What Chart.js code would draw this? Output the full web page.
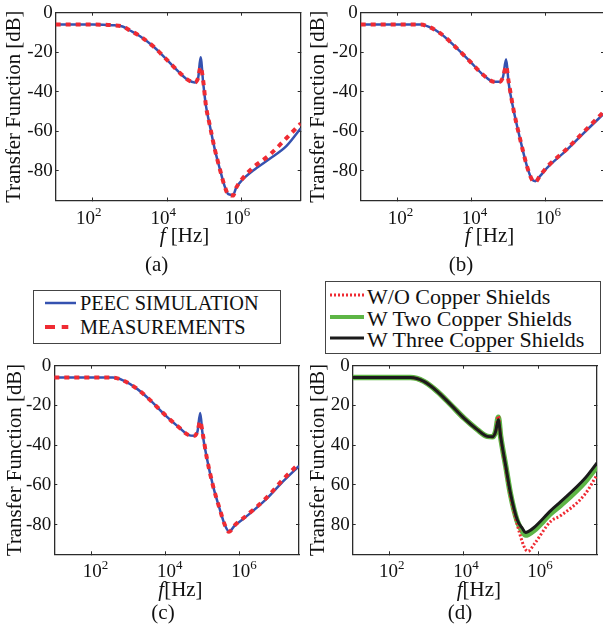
<!DOCTYPE html>
<html>
<head>
<meta charset="utf-8">
<title>Transfer function</title>
<script src="https://cdn.jsdelivr.net/npm/chart.js@4.4.1/dist/chart.umd.min.js"></script>
<style>
  html, body { margin: 0; padding: 0; background: #fff; }
  #fig { position: relative; width: 603px; height: 627px; overflow: hidden; }
  #fig > canvas { position: absolute; }
  .legend { position: absolute; box-sizing: border-box; border: 1px solid #444; background: #fff; }
  .legend span { position: absolute; color: #111; line-height: 22px; white-space: nowrap; }
  .legend canvas { position: absolute; }
</style>
</head>
<body>
<div id="fig">
  <canvas id="panelA" width="303" height="280" style="left:0;top:0"></canvas>
  <canvas id="panelB" width="310" height="280" style="left:300px;top:0"></canvas>
  <canvas id="panelC" width="303" height="274" style="left:0;top:353px"></canvas>
  <canvas id="panelD" width="303" height="274" style="left:300px;top:353px"></canvas>
  <div id="legendAC" class="legend"></div>
  <div id="legendD" class="legend"></div>
</div>
<script>
"use strict";

// (a) frequency [Hz] and transfer function [dB]
const freqA = [10, 100, 320, 630, 1000, 1900, 4200, 1e4, 2.2e4, 3.6e4, 5.5e4, 6.8e4, 7.9e4, 9.3e4, 1.1e5, 1.4e5, 1.9e5, 2.6e5, 3.5e5, 4.4e5, 5.9e5, 7.2e5, 1e6, 2e6, 5.6e6, 1.6e7, 3.9e7];
const peecA = [-6, -6, -6.3, -7, -9, -12, -17, -24, -30.5, -34, -35.3, -33, -22.5, -35.6, -47, -57, -69, -79, -87.7, -91.8, -92.2, -88.5, -85, -80, -74, -67.5, -58.5];
const measA = [-6, -6, -6.3, -7, -9, -12, -17, -24, -30.5, -34, -35.3, -33, -27.5, -34.5, -47, -57, -69, -79, -87.7, -92, -92.5, -88.5, -84.5, -78.5, -72, -63.5, -56];

// (b)
const freqB = [10, 100, 420, 710, 1450, 3300, 9300, 2.1e4, 4e4, 5.8e4, 7.2e4, 8.7e4, 1.02e5, 1.38e5, 2.1e5, 3.2e5, 4.4e5, 5.4e5, 7.2e5, 1.12e6, 3.9e6, 1.1e7, 3.9e7];
const peecB = [-6, -6, -6, -7.2, -10.5, -16.4, -24.8, -31.5, -34.9, -34.9, -32.3, -23.6, -35.7, -49.1, -64.2, -77.7, -84.4, -85.2, -82.7, -78.5, -69.3, -60.9, -51];
const measB = [-6, -6, -6, -7.2, -10.5, -16.4, -24.8, -31.5, -34.9, -35, -32.5, -27, -35, -49.1, -64.2, -77.7, -84.6, -85.6, -82.5, -78, -68.8, -60.3, -50];

// (c)
const freqC = [10, 100, 380, 710, 1600, 3700, 1.05e4, 2.4e4, 4e4, 6e4, 7.2e4, 8.5e4, 9.8e4, 1.26e5, 1.9e5, 2.9e5, 3.9e5, 5.1e5, 7.2e5, 1.5e6, 5.2e6, 1.45e7, 3.9e7];
const peecC = [-6, -6, -6, -7.4, -11.3, -17.1, -25.5, -31.4, -34.8, -35.3, -33.1, -23.8, -33.9, -45.7, -60.8, -72.6, -80.1, -83.5, -80.6, -75.9, -67.1, -58.3, -50.5];
const measC = [-6, -6, -6, -7.4, -11.3, -17.1, -25.5, -31.4, -34.8, -35.3, -33.1, -28, -33.5, -45.7, -60.8, -72.6, -80.1, -83.7, -80.4, -75.5, -66.5, -57.3, -49.3];

// (d) shielding comparison
const freqD = [10, 100, 360, 830, 1900, 4400, 1e4, 2.3e4, 4.3e4, 5.9e4, 7.2e4, 8.5e4, 9.8e4, 1.35e5, 1.8e5, 2.75e5, 3.8e5, 4.6e5, 5.4e5, 7.8e5, 2.2e6, 4.1e6, 1.8e7, 3.9e7];
const noShieldD = [-6, -6, -6, -7.9, -12.9, -19.6, -26.4, -32.2, -35.6, -35.8, -33.1, -25.3, -36, -51.5, -65.5, -80, -89, -92.5, -93.5, -90, -78.4, -75.5, -65, -55];
const twoShieldD = [-6, -6, -6, -7.9, -12.9, -19.6, -26.4, -32.2, -35.6, -35.8, -33.1, -26, -35.6, -50.7, -64.5, -78.3, -83.5, -85.3, -85, -83, -74.5, -70.3, -58.8, -50.7];
const threeShieldD = [-6, -6, -6, -7.9, -12.9, -19.6, -26.4, -32.2, -35.6, -35.8, -33.1, -27.2, -35.6, -50.7, -64.1, -77.6, -82, -84, -83.6, -81.5, -73, -68.5, -57, -49];

// axes
const xTickValues = [1e2, 1e4, 1e6];
const yTickValues = [0, -20, -40, -60, -80];
const yTickLabels = ["0", "-20", "-40", "-60", "-80"];
const yTickLabelsD = ["0", "20", "40", "60", "80"];

const BLUE = "#3552b0", RED = "#ef2b33", GREEN = "#5db545", BLACK = "#1b1b1b";
const AXIS = "#2b2b2b";

// first serif face that is really installed; sizes are scaled so a wider face takes the same room
const probe = document.createElement("canvas").getContext("2d");
function pickSerif() {
    const sample = "Transfer Function [dB] 0123456789";
    probe.font = "40px monospace";
    const mono = probe.measureText(sample).width;
    for (const fam of ['"Liberation Serif"', '"Times New Roman"', '"Nimbus Roman"', '"DejaVu Serif"', '"Noto Serif"']) {
        probe.font = "40px " + fam + ", monospace";
        if (probe.measureText(sample).width !== mono) return fam;
    }
    return "serif";
}
const SERIF = pickSerif();
probe.font = "100px " + SERIF;
const fontScale = /Liberation|Times|Nimbus/.test(SERIF) ? 1 : 927 / probe.measureText("Transfer Function [dB]").width;
const fs = n => Math.round(n * fontScale * 10) / 10;
const font = (n, style) => (style ? style + " " : "") + fs(n) + "px " + SERIF;

function points(freq, vals) {
    return freq.map((f, i) => ({ x: f, y: vals[i] }));
}

function setTicks(list) {
    return scale => { scale.ticks = list.map(v => ({ value: v })); };
}

// box round the plot with short ticks pointing inwards on all four sides
function boxScales(p) {
    const marks = { color: AXIS, drawOnChartArea: false, drawTicks: true, tickLength: -3, lineWidth: 1 };
    const border = { display: true, color: AXIS, width: 1.3 };
    const size = (w, h) => scale => {
        if (w !== null) scale.width = w;
        if (h !== null) scale.height = h;
        scale.paddingTop = scale.paddingBottom = scale.paddingLeft = scale.paddingRight = 0;
    };
    const xBase = { type: "logarithmic", axis: "x", min: 10, max: 3.9e7, bounds: "data", grid: marks, border,
                    ticks: { display: false }, afterBuildTicks: setTicks(xTickValues) };
    const yBase = { type: "linear", axis: "y", min: -95, max: 0, bounds: "data", grid: marks, border,
                    afterBuildTicks: setTicks(yTickValues) };
    return {
        x: { ...xBase, position: "bottom", afterFit: size(null, p.xAxisH) },
        x2: { ...xBase, position: "top", afterFit: size(null, 0) },
        y: { ...yBase, position: "left", afterFit: size(p.yAxisW, null),
             ticks: { color: "#111", font: { family: SERIF, size: fs(19) }, padding: 6, callback: (v, i) => p.yLabels[i] } },
        y2: { ...yBase, position: "right", ticks: { display: false }, afterFit: size(0, null) }
    };
}

// decade labels, f [Hz], panel tag and the rotated y title
const panelText = {
    id: "panelText",
    afterDraw(chart, args, o) {
        const { ctx, chartArea: a, scales } = chart;
        ctx.save();
        ctx.fillStyle = "#111";
        ctx.textAlign = "left";
        ctx.textBaseline = "alphabetic";
        xTickValues.forEach(v => {
            const exp = String(Math.round(Math.log10(v)));
            ctx.font = font(19);
            const wBase = ctx.measureText("10").width;
            ctx.font = font(13);
            const wExp = ctx.measureText(exp).width;
            const x0 = scales.x.getPixelForValue(v) + o.tickShift - (wBase + wExp) / 2;
            const base = a.bottom + 23;
            ctx.font = font(19);
            ctx.fillText("10", x0, base);
            ctx.font = font(13);
            ctx.fillText(exp, x0 + wBase, base - 8);
        });

        const tBase = a.bottom + o.titleDrop;
        let tx = a.left + 104;
        ctx.font = font(21, "italic");
        ctx.fillText("f", tx, tBase);
        tx += ctx.measureText("f").width;
        ctx.font = font(21);
        ctx.fillText(o.unit, tx, tBase);

        ctx.textAlign = "center";
        ctx.fillText(o.tag, a.left + o.tagShift, a.bottom + o.tagDrop);

        ctx.translate(a.left - o.yTitleGap, (a.top + a.bottom) / 2);
        ctx.rotate(-Math.PI / 2);
        ctx.textBaseline = "middle";
        ctx.font = font(20.8);
        ctx.fillText("Transfer Function [dB]", 0, 0);
        ctx.restore();
    }
};

function makePanel(id, p, datasets) {
    return new Chart(document.getElementById(id), {
        type: "line",
        data: { datasets },
        options: {
            responsive: false,
            animation: false,
            events: [],
            layout: { padding: { left: 0, top: 12.7, right: p.padRight, bottom: 0 } },
            elements: { point: { radius: 0 }, line: { cubicInterpolationMode: "monotone" } },
            scales: boxScales(p),
            plugins: { legend: { display: false }, tooltip: { enabled: false }, panelText: p }
        },
        plugins: [panelText]
    });
}

function peecPair(freq, peec, meas) {
    return [
        { label: "PEEC SIMULATION", data: points(freq, peec), borderColor: BLUE, borderWidth: 2.5, order: 1 },
        { label: "MEASUREMENTS", data: points(freq, meas), borderColor: RED, borderWidth: 4, borderDash: [5, 5],
          legendDash: [10, 6.7, 6.6, 20], order: 0 }
    ];
}

const chartA = makePanel("panelA",
    { yAxisW: 55.7, xAxisH: 79.5, padRight: 2.3, yLabels: yTickLabels, tickShift: -4, unit: " [Hz]",
      titleDrop: 41.5, tag: "(a)", tagShift: 101, tagDrop: 70, yTitleGap: 41 },
    peecPair(freqA, peecA, measA));

const chartB = makePanel("panelB",
    { yAxisW: 60.7, xAxisH: 79.5, padRight: 6, yLabels: yTickLabels, tickShift: 3, unit: " [Hz]",
      titleDrop: 41.5, tag: "(b)", tagShift: 100.3, tagDrop: 70, yTitleGap: 42 },
    peecPair(freqB, peecB, measB));

const chartC = makePanel("panelC",
    { yAxisW: 54.3, xAxisH: 72.7, padRight: 4, yLabels: yTickLabels, tickShift: 4, unit: "[Hz]",
      titleDrop: 42, tag: "(c)", tagShift: 108.7, tagDrop: 65, yTitleGap: 39 },
    peecPair(freqC, peecC, measC));

const chartD = makePanel("panelD",
    { yAxisW: 52.7, xAxisH: 72.7, padRight: 6, yLabels: yTickLabelsD, tickShift: 2, unit: "[Hz]",
      titleDrop: 42, tag: "(d)", tagShift: 107.3, tagDrop: 65, yTitleGap: 34 },
    [
        { label: "W/O Copper Shields", data: points(freqD, noShieldD), borderColor: RED, borderWidth: 3, borderDash: [2, 2], order: 1 },
        { label: "W Two Copper Shields", data: points(freqD, twoShieldD), borderColor: GREEN, borderWidth: 5.5, order: 2 },
        { label: "W Three Copper Shields", data: points(freqD, threeShieldD), borderColor: BLACK, borderWidth: 3, order: 0 }
    ]);

// legend boxes built from the datasets of a chart
function buildLegend(id, chart, box) {
    const el = document.getElementById(id);
    Object.assign(el.style, { left: box.left + "px", top: box.top + "px", width: box.width + "px", height: box.height + "px" });
    chart.data.datasets.forEach((ds, i) => {
        const y = box.firstRow + i * box.rowStep;
        const c = document.createElement("canvas");
        c.width = box.sampleWidth;
        c.height = 8;
        c.style.left = box.sampleLeft + "px";
        c.style.top = (y - 4) + "px";
        const g = c.getContext("2d");
        g.strokeStyle = ds.borderColor;
        g.lineWidth = Math.min(ds.borderWidth, 4);
        g.setLineDash(ds.legendDash || ds.borderDash || []);
        g.beginPath();
        g.moveTo(0, 4);
        g.lineTo(box.sampleWidth, 4);
        g.stroke();
        el.appendChild(c);
        const t = document.createElement("span");
        t.textContent = ds.label;
        t.style.font = font(box.fontSize);
        t.style.left = box.textLeft + "px";
        t.style.top = (y - 11) + "px";
        el.appendChild(t);
    });
}

buildLegend("legendAC", chartA, { left: 33, top: 290, width: 248, height: 54, firstRow: 11.7, rowStep: 24,
                                  sampleLeft: 11, sampleWidth: 31, textLeft: 46, fontSize: 20.3 });
buildLegend("legendD", chartD, { left: 325, top: 281, width: 276, height: 73, firstRow: 13, rowStep: 21.5,
                                 sampleLeft: 4, sampleWidth: 34, textLeft: 41, fontSize: 22 });
</script>
</body>
</html>
